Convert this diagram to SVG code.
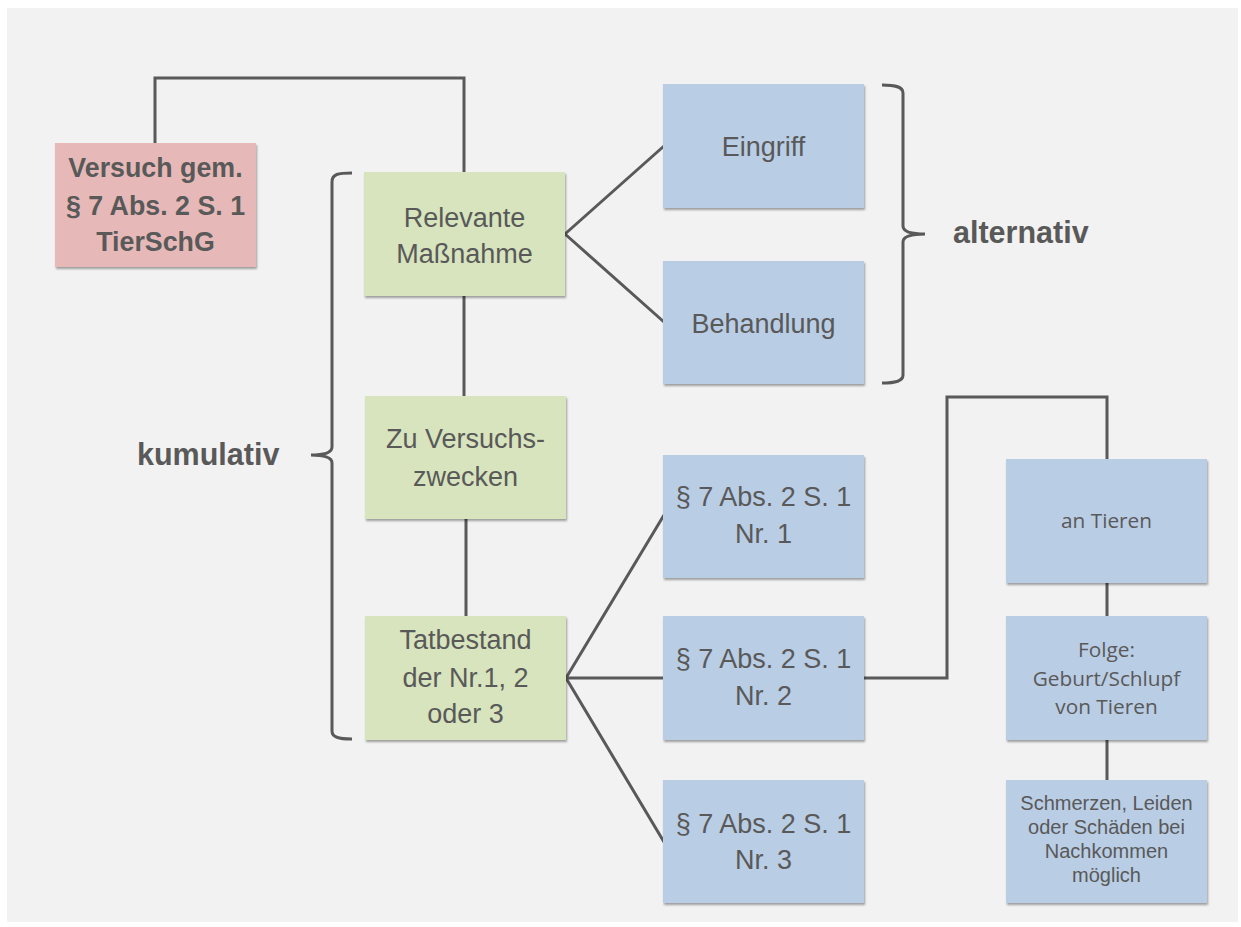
<svg xmlns="http://www.w3.org/2000/svg" width="1241" height="927" viewBox="0 0 1241 927">
<defs>
<filter id="sh" x="-5%" y="-5%" width="112%" height="115%">
<feDropShadow dx="1" dy="2" stdDeviation="1.2" flood-color="#000" flood-opacity="0.35"/>
</filter>
<style>
.red{fill:#e6b9b8;filter:url(#sh)}
.green{fill:#d7e4bd;filter:url(#sh)}
.blue{fill:#b9cde5;filter:url(#sh)}
text{font-family:"Liberation Sans",Arial,sans-serif;fill:#595959;text-anchor:middle}
.t{font-size:27px}
.b{font-size:26.8px;font-weight:bold}
.lab{font-size:30.5px;font-weight:bold;text-anchor:start}
.s{font-family:"Open Sans","Liberation Sans",sans-serif;font-size:20.8px}
.xs{font-size:20px}
.c{fill:none;stroke:#595959;stroke-width:3}
</style>
</defs>
<rect x="0" y="0" width="1241" height="927" fill="#ffffff"/>
<rect x="7" y="8" width="1231" height="914" fill="#f2f2f2"/>

<g id="connectors">
<path class="c" d="M155,144 V78 H464 V172"/>
<path class="c" d="M464,296 V396"/>
<path class="c" d="M466,519 V616"/>
<path class="c" d="M565,234 L664,146 M565,234 L664,322"/>
<path class="c" d="M566,678 L664,515 M566,678 H664 M566,678 L664,842"/>
<path class="c" d="M864,678 H947 V397 H1107 V459"/>
<path class="c" d="M1107,583 V616"/>
<path class="c" d="M1107,740 V780"/>
<path class="c" d="M352,173 C338,173 332,174 332,182 L332,447 C332,452 326,455 311,455 C326,455 332,458 332,463 L332,731 C332,737 338,739 352,739"/>
<path class="c" d="M882,85 C896,85 903,87 903,93 L903,226 C903,231 909,234 925,234 C909,234 903,237 903,242 L903,375 C903,381 896,383 882,383"/>
</g>

<g id="n-versuch">
<rect class="red" x="55" y="143" width="201" height="124"/>
<text class="b" x="155.5" y="177">Versuch gem.</text>
<text class="b" x="155.5" y="215">§ 7 Abs. 2 S. 1</text>
<text class="b" x="155.5" y="251">TierSchG</text>
</g>

<g id="n-massnahme">
<rect class="green" x="364" y="172" width="201" height="124"/>
<text class="t" x="464.5" y="227">Relevante</text>
<text class="t" x="464.5" y="263">Maßnahme</text>
</g>

<g id="n-zwecke">
<rect class="green" x="365" y="396" width="201" height="123"/>
<text class="t" x="465.5" y="448">Zu Versuchs-</text>
<text class="t" x="465.5" y="486">zwecken</text>
</g>

<g id="n-tatbestand">
<rect class="green" x="365" y="616" width="201" height="124"/>
<text class="t" x="465.5" y="649">Tatbestand</text>
<text class="t" x="465.5" y="687">der Nr.1, 2</text>
<text class="t" x="465.5" y="723">oder 3</text>
</g>

<g id="n-eingriff">
<rect class="blue" x="663" y="84" width="201" height="124"/>
<text class="t" x="763.5" y="156">Eingriff</text>
</g>

<g id="n-behandlung">
<rect class="blue" x="663" y="261" width="201" height="123"/>
<text class="t" x="763.5" y="333">Behandlung</text>
</g>

<g id="n-nr1">
<rect class="blue" x="663" y="455" width="201" height="123"/>
<text class="t" x="763.5" y="506">§ 7 Abs. 2 S. 1</text>
<text class="t" x="763.5" y="543">Nr. 1</text>
</g>

<g id="n-nr2">
<rect class="blue" x="663" y="616" width="201" height="124"/>
<text class="t" x="763.5" y="668">§ 7 Abs. 2 S. 1</text>
<text class="t" x="763.5" y="705">Nr. 2</text>
</g>

<g id="n-nr3">
<rect class="blue" x="663" y="780" width="201" height="123"/>
<text class="t" x="763.5" y="833">§ 7 Abs. 2 S. 1</text>
<text class="t" x="763.5" y="869">Nr. 3</text>
</g>

<g id="n-tiere">
<rect class="blue" x="1006" y="459" width="201" height="124"/>
<text class="s" x="1106.5" y="528">an Tieren</text>
</g>

<g id="n-folge">
<rect class="blue" x="1006" y="616" width="201" height="124"/>
<text class="s" x="1106.5" y="657">Folge:</text>
<text class="s" x="1106.5" y="686">Geburt/Schlupf</text>
<text class="s" x="1106.5" y="714">von Tieren</text>
</g>

<g id="n-schmerzen">
<rect class="blue" x="1006" y="780" width="201" height="123"/>
<text class="xs" x="1106.5" y="810">Schmerzen, Leiden</text>
<text class="xs" x="1106.5" y="834">oder Schäden bei</text>
<text class="xs" x="1106.5" y="858">Nachkommen</text>
<text class="xs" x="1106.5" y="882">möglich</text>
</g>

<g id="labels">
<text class="lab" x="137" y="465">kumulativ</text>
<text class="lab" x="953" y="243">alternativ</text>
</g>
</svg>
